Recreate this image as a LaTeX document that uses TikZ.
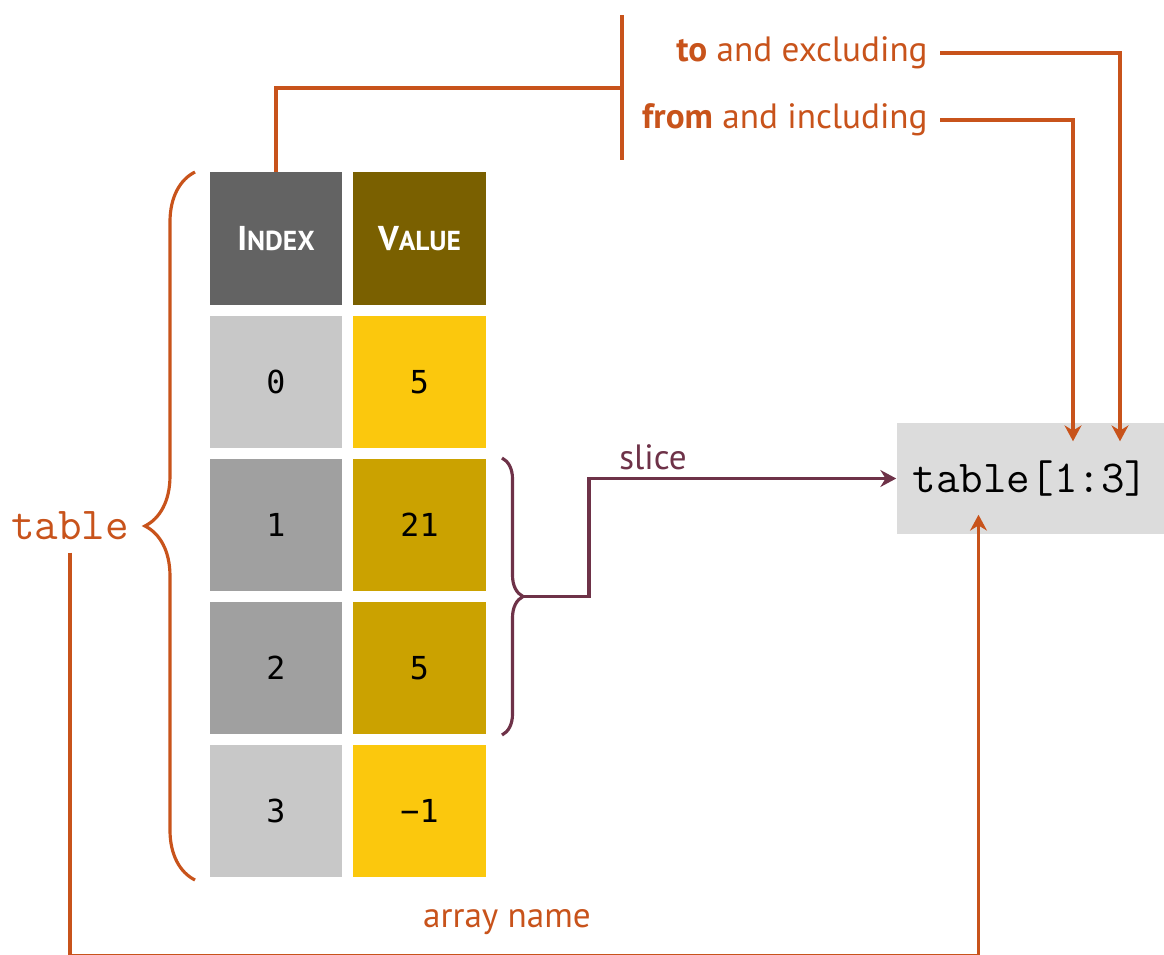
\documentclass[tikz,border=0pt]{standalone}
\usepackage{fontspec}
\setmainfont{PT Sans}
\newfontfamily\cellfont{DejaVu Sans Mono}
\usetikzlibrary{arrows.meta,decorations.pathreplacing,calc}

\definecolor{accent}{HTML}{C8531B}
\definecolor{slicec}{HTML}{6E3248}
\definecolor{idxhead}{HTML}{636363}
\definecolor{valhead}{HTML}{7A6000}
\definecolor{idxlight}{HTML}{C8C8C8}
\definecolor{vallight}{HTML}{FBC80D}
\definecolor{idxdark}{HTML}{A0A0A0}
\definecolor{valdark}{HTML}{CBA200}
\definecolor{boxgray}{HTML}{DCDCDC}

\tikzset{
  cell/.style={inner sep=0pt, minimum size=1.32cm, font=\cellfont\fontsize{9}{9}\selectfont},
  hdr/.style={cell, text=white, font=\bfseries},
  lbl/.style={text=accent, font=\fontsize{10}{11}\selectfont},
  link/.style={draw=accent, line width=0.9pt},
  arr/.style={link, -{Stealth[length=4.5pt,width=4.8pt]}},
}

\begin{document}
\begin{tikzpicture}[x=0.01cm,y=-0.01cm]
    \useasboundingbox (0,0) rectangle (1164,954);
    % the array
    \node[hdr, fill=idxhead] (ih) at (276,238.5) {\fontsize{9.8}{10}\selectfont I\fontsize{7.8}{8}\selectfont NDEX};
    \node[hdr, fill=valhead] (vh) at (419.5,238.5) {\fontsize{9.8}{10}\selectfont V\fontsize{7.8}{8}\selectfont ALUE};
    \foreach \i/\v/\ic/\vc [count=\r from 0] in {0/5/idxlight/vallight, 1/21/idxdark/valdark, 2/5/idxdark/valdark, 3/−1/idxlight/vallight} {
        \node[cell, fill=\ic] (i\i) at (276,{382+143*\r}) {\i};
        \node[cell, fill=\vc] (v\i) at (419.5,{382+143*\r}) {\v};
    }
    % the expression
    \node[fill=boxgray, minimum width=2.67cm, minimum height=1.11cm, font=\ttfamily\fontsize{13}{14}\selectfont] (expr) at (1030.5,478.5) {table[1:3]};
    % array name
    \draw[line width=0.9pt, accent, decorate, decoration={brace, amplitude=0.5cm}] (195,880) -- (195,172);
    \node[text=accent, font=\ttfamily\fontsize{13}{14}\selectfont] (tname) at (70,526) {table};
    \node[lbl] (aname) at (507,922) {array name};
    \draw[arr] (tname.south) -- (tname.south |- 0,955.5) -| ($(expr.south)+(-52,-20)$);
    % from / to
    \draw[link] (ih.north) |- (622,88);
    \draw[link] (622,15) -- (622,160);
    \node[lbl, anchor=east] (tolbl) at (940,53) {\textbf{to} and excluding};
    \node[lbl, anchor=east] (fromlbl) at (940,120) {\textbf{from} and including};
    \draw[arr] (tolbl.east) -| ($(expr.north)+(89.5,19)$);
    \draw[arr] (fromlbl.east) -| ($(expr.north)+(42.5,19)$);
    % slice
    \draw[line width=0.9pt, slicec, decorate, decoration={brace, amplitude=0.21cm}] (502,458) -- (502,735);
    \coordinate (sltip) at (523,596.5);
    \node[lbl, text=slicec] (slbl) at (653,457) {slice};
    \draw[arr, draw=slicec] (sltip) -- (589,596.5) |- (expr.west);
\end{tikzpicture}
\end{document}
